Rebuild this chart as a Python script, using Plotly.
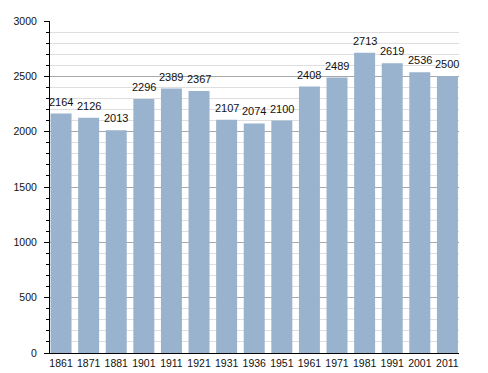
import plotly.graph_objects as go

years = ["1861", "1871", "1881", "1901", "1911", "1921", "1931", "1936",
         "1951", "1961", "1971", "1981", "1991", "2001", "2011"]
population = [2164, 2126, 2013, 2296, 2389, 2367, 2107, 2074,
              2100, 2408, 2489, 2713, 2619, 2536, 2500]

fig = go.Figure(go.Bar(
    x=years,
    y=population,
    marker=dict(color="#99b2cd", line=dict(width=0)),
))

# value labels above each bar (category index positions on the x axis)
for i, v in enumerate(population):
    fig.add_annotation(
        x=i, y=v, xref="x", yref="y", text=str(v), showarrow=False,
        yanchor="bottom", yshift=4,
        font=dict(family="Liberation Sans, Arial", size=11, color="#111"),
    )

# page body has an 8px default margin, so the figure is sized to fit the window
fig.update_layout(
    width=480, height=365,
    margin=dict(l=42, r=29, t=13, b=20, autoexpand=False),
    paper_bgcolor="white", plot_bgcolor="white",
    bargap=0.24,
    showlegend=False,
    font=dict(family="Liberation Sans, Arial", size=10.5, color="#111"),
)
fig.update_xaxes(
    type="category",
    range=[-0.4, 14.42],
    automargin=False,
    showline=True, linecolor="black", linewidth=1,
    ticks="", showgrid=False,
    tickfont=dict(size=10.5),
)
fig.update_yaxes(
    range=[0, 3000],
    automargin=False,
    tickvals=[0, 500, 1000, 1500, 2000, 2500, 3000],
    showline=True, linecolor="black", linewidth=1,
    ticks="outside", ticklen=5, tickcolor="black",
    showgrid=True, gridcolor="#a8a8a8", gridwidth=1,
    zeroline=False,
    ticklabelstandoff=5,
    minor=dict(dtick=100, ticks="outside", ticklen=3, tickcolor="black",
               showgrid=True, gridcolor="#dedede", gridwidth=1),
    tickfont=dict(size=10.5),
)

fig.write_html("out.html")
